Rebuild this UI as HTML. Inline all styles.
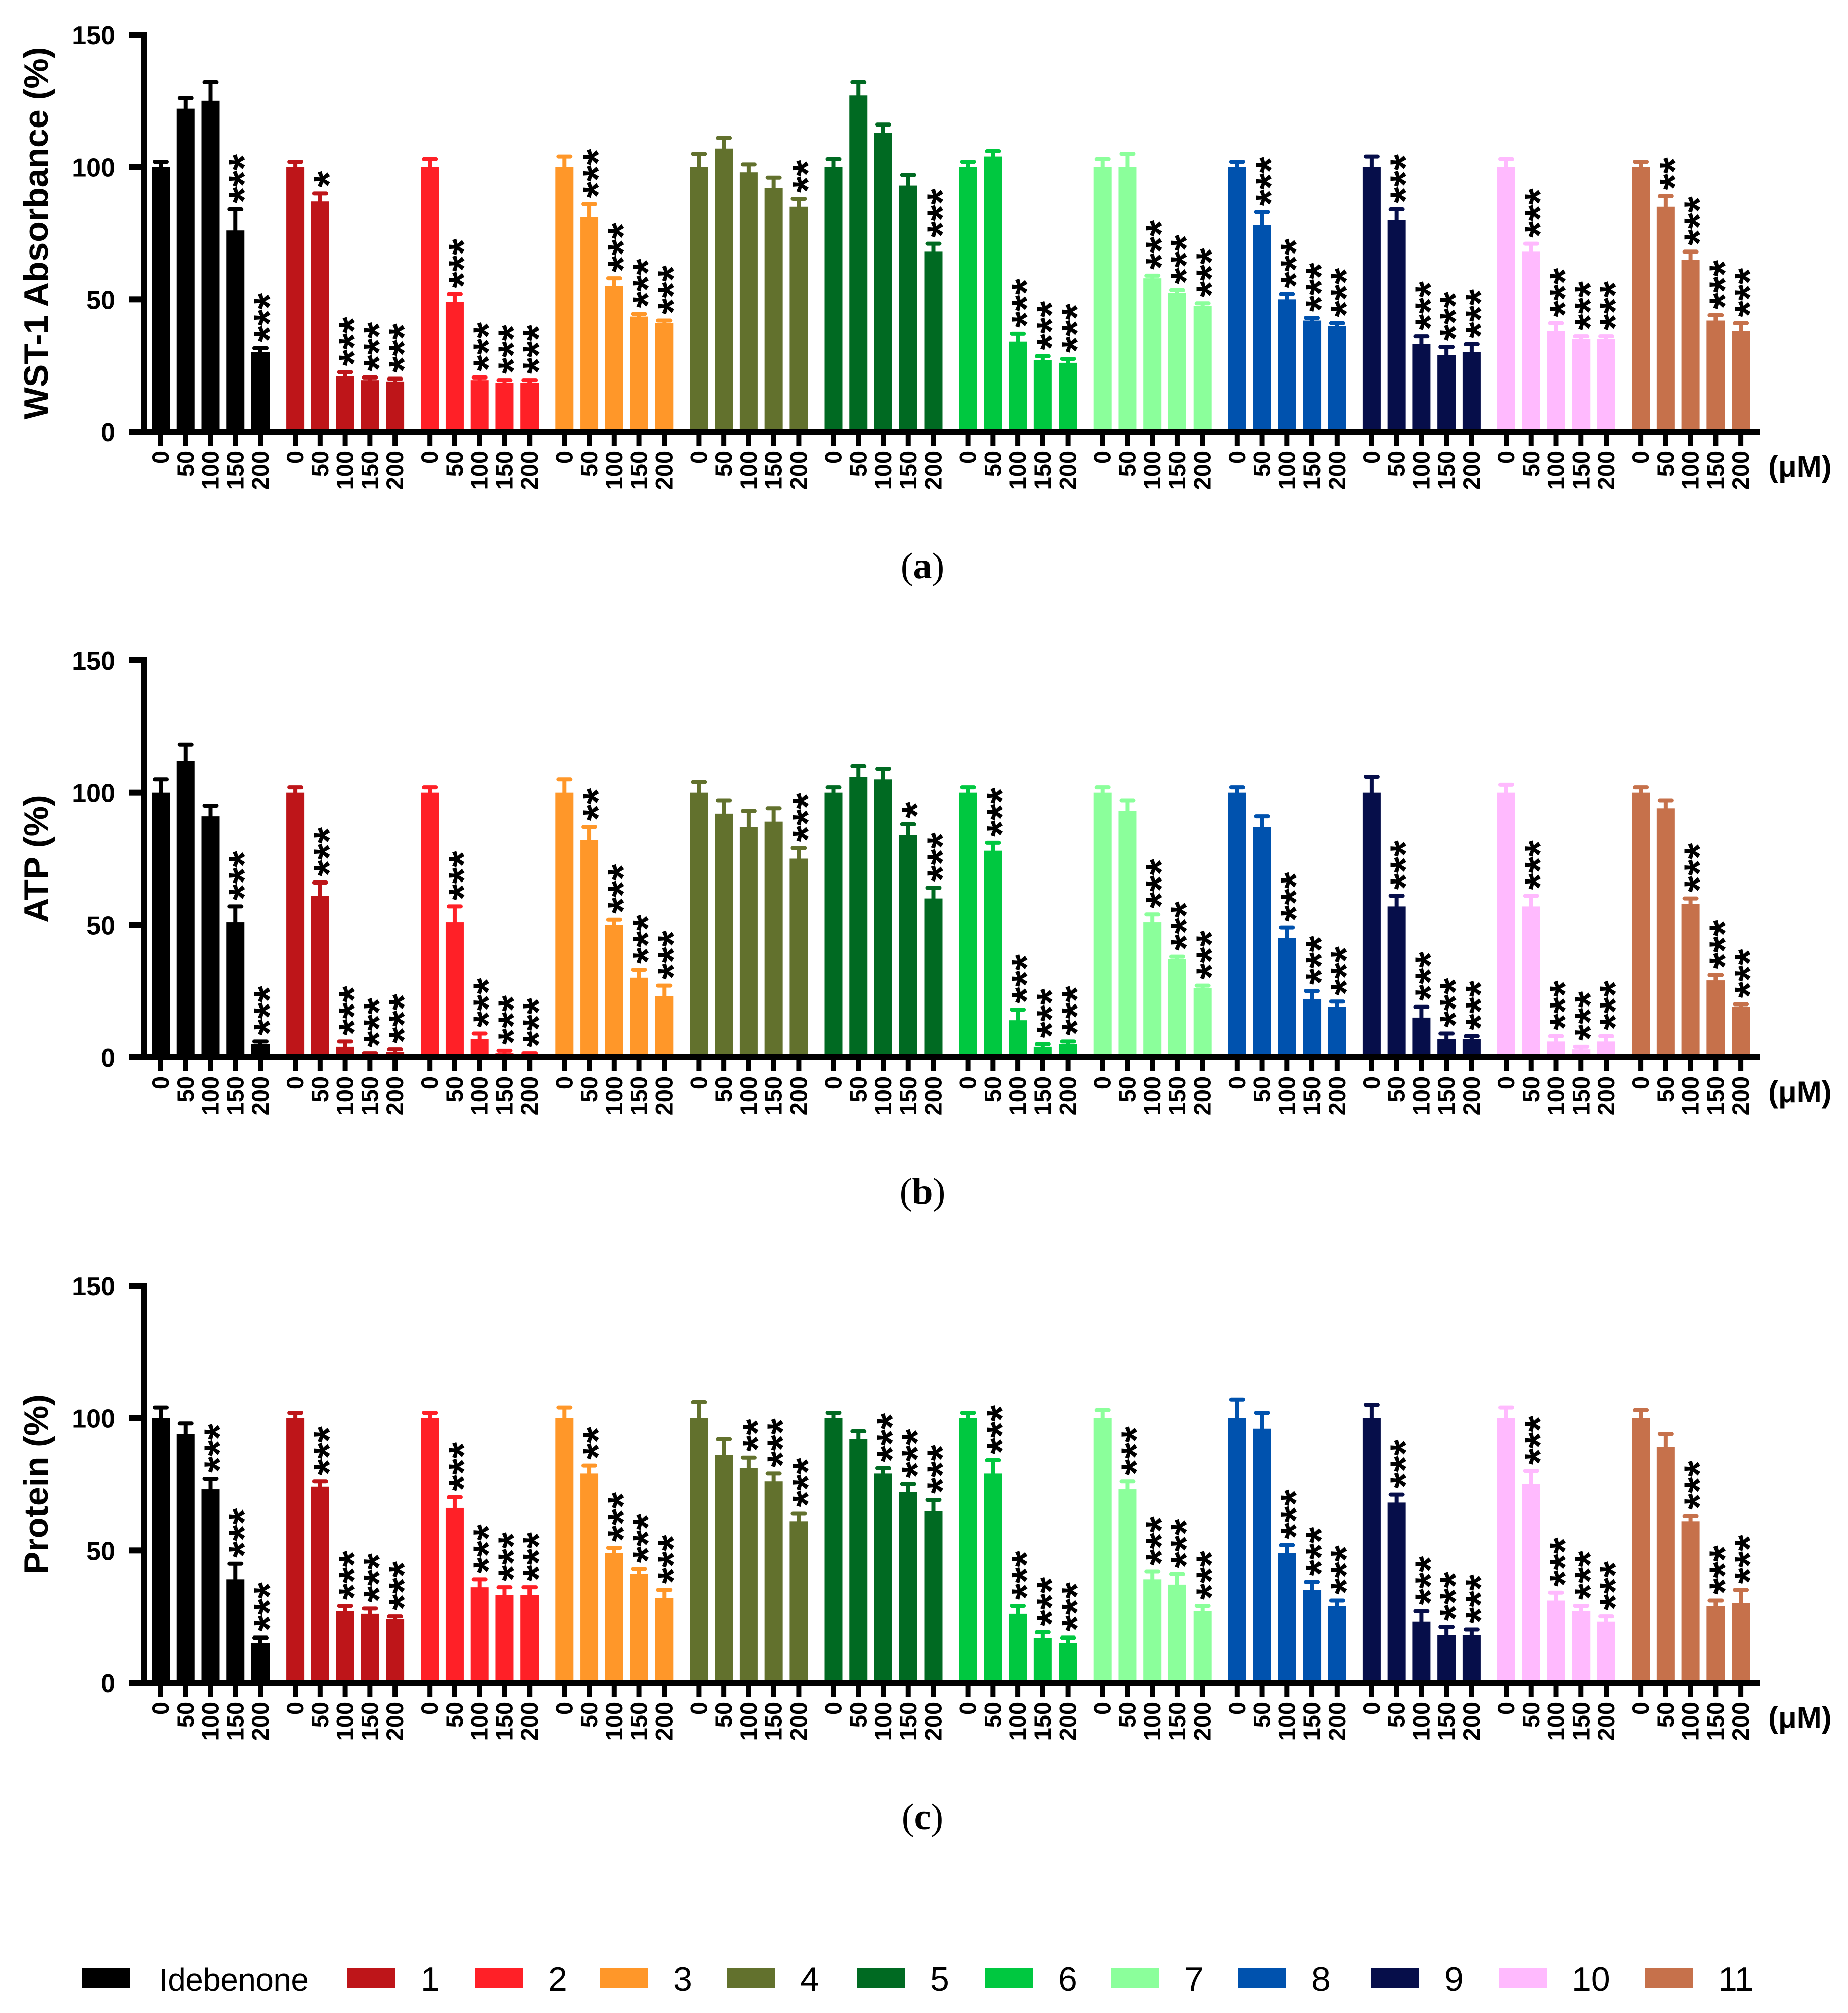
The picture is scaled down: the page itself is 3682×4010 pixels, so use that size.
<!DOCTYPE html>
<html><head><meta charset="utf-8"><style>
html,body{margin:0;padding:0;background:#fff;}
svg{display:block;}
</style></head><body>
<svg id="fig" width="3682" height="4010" viewBox="0 0 3682 4010" xmlns="http://www.w3.org/2000/svg"></svg>
<script>
const groups = ["Idebenone","1","2","3","4","5","6","7","8","9","10","11"];
const doses = ["0","50","100","150","200"];
const colors = ["#000000","#be1519","#ff2027","#ff9729","#62712d","#006a22","#00c840","#8bff9b","#0052ae","#060e4a","#ffbafe","#c6714b"];
const yTicks = [0,50,100,150];

const wstValues = [[100,122,125,76,30],[100,87,21,19.5,19],[100,49,19.5,18.5,18.5],[100,81,55,43.5,41],[100,107,98,92,85],[100,127,113,93,68],[100,104,34,27,26],[100,100,58,52.5,47.5],[100,78,50,42,40],[100,80,33,29,30],[100,68,38,35,35],[100,85,65,42,38]];
const wstErrors = [[2,4,7,8,1.5],[2,3,1.5,1,1],[3,3,1,1,1],[4,5,3,1,1],[5,4,3,4,3],[3,5,3,4,3],[2,2,3,1.5,1.5],[3,5,1,1,1],[2,5,2,1,1],[4,4,3,3,3],[3,3,3,1,1],[2,4,3,2,3]];
const wstStars = [["","","","***","***"],["","*","***","***","***"],["","***","***","***","***"],["","***","***","***","***"],["","","","","**"],["","","","","***"],["","","***","***","***"],["","","***","***","***"],["","***","***","***","***"],["","***","***","***","***"],["","***","***","***","***"],["","**","***","***","***"]];

const atpValues = [[100,112,91,51,5],[100,61,4,1,2],[100,51,7,1.5,1],[100,82,50,30,23],[100,92,87,89,75],[100,106,105,84,60],[100,78,14,4,5],[100,93,51,37,26],[100,87,45,22,19],[100,57,15,7,7],[100,57,6,3,6],[100,94,58,29,19]];
const atpErrors = [[5,6,4,6,1],[2,5,2,0.5,1],[2,6,2,1,0.5],[5,5,2,3,4],[4,5,6,5,4],[2,4,4,4,4],[2,3,4,1,1],[2,4,3,1,1],[2,4,4,3,2],[6,4,4,2,1],[3,4,2,1,2],[2,3,2,2,1]];
const atpStars = [["","","","***","***"],["","***","***","***","***"],["","***","***","***","***"],["","**","***","***","***"],["","","","","***"],["","","","*","***"],["","***","***","***","***"],["","","***","***","***"],["","","***","***","***"],["","***","***","***","***"],["","***","***","***","***"],["","","***","***","***"]];

const protValues = [[100,94,73,39,15],[100,74,27,26,24],[100,66,36,33,33],[100,79,49,41,32],[100,86,81,76,61],[100,92,79,72,65],[100,79,26,17,15],[100,73,39,37,27],[100,96,49,35,29],[100,68,23,18,18],[100,75,31,27,23],[100,89,61,29,30]];
const protErrors = [[4,4,4,6,2],[2,2,2,2,1],[2,4,3,3,3],[4,3,2,2,3],[6,6,4,3,3],[2,3,2,3,4],[2,5,3,2,2],[3,3,3,4,2],[7,6,3,3,2],[5,3,4,3,2],[4,5,3,2,2],[3,5,2,2,5]];
const protStars = [["","","***","***","***"],["","***","***","***","***"],["","***","***","***","***"],["","**","***","***","***"],["","","**","***","***"],["","","***","***","***"],["","***","***","***","***"],["","***","***","***","***"],["","","***","***","***"],["","***","***","***","***"],["","***","***","***","***"],["","","***","***","***"]];

const NS="http://www.w3.org/2000/svg";
const svg=document.getElementById('fig');
function mk(tag,attrs,parent,text){const e=document.createElementNS(NS,tag);for(const k in attrs)e.setAttribute(k,attrs[k]);if(text!==undefined)e.textContent=text;(parent||svg).appendChild(e);return e;}

const F='"Liberation Sans", Arial, sans-serif';
const panels=[
 {id:"wst",title:"WST-1 Absorbance (%)",caption:"a",values:wstValues,errors:wstErrors,stars:wstStars,base:860},
 {id:"atp",title:"ATP (%)",caption:"b",values:atpValues,errors:atpErrors,stars:atpStars,base:2106},
 {id:"protein",title:"Protein (%)",caption:"c",values:protValues,errors:protErrors,stars:protStars,base:3352}
];
const pxPerUnit=(860-69)/150;
const x0=302, barW=36, barPitch=49.75, groupPitch=268.1;
function xBar(g,d){return x0+g*groupPitch+d*barPitch;}

panels.forEach(p=>{
  const g0=mk('g',{},svg);
  
  
  const y=v=>p.base-v*pxPerUnit;
  p.values.forEach((vals,gi)=>{
    vals.forEach((v,di)=>{
      const bx=xBar(gi,di), cx=bx+barW/2;
      const r=mk('rect',{x:bx,y:y(v),width:barW,height:p.base-y(v),fill:colors[gi]},g0);
      
      
      const top=y(v+p.errors[gi][di]);
      const eb=mk('path',{d:`M${cx} ${y(v)} L${cx} ${top} M${cx-12} ${top} L${cx+12} ${top}`,stroke:colors[gi],'stroke-width':8,'stroke-linecap':'round',fill:'none'},g0);
      
      
      const s=p.stars[gi][di];
      if(s){
        const sy=top-12, sx=cx+46;
        const t=mk('text',{x:sx,y:sy,transform:`rotate(-90 ${sx} ${sy})`,'font-family':F,'font-weight':'bold','font-size':84,fill:'#000'},g0,s);
        
        
      }
      mk('rect',{x:cx-5,y:p.base+6,width:10,height:22,fill:'#000'},g0);
      const lx=cx+16, ly=p.base+38;
      const tl=mk('text',{x:lx,y:ly,transform:`rotate(-90 ${lx} ${ly})`,'text-anchor':'end','font-family':F,'font-weight':'bold','font-size':47,fill:'#000'},g0,doses[di]);
      
      
    });
  });
  const ya=mk('rect',{x:280,y:y(150)-6,width:12,height:p.base-y(150)+12,fill:'#000'},g0);
  
  
  const xa=mk('rect',{x:280,y:p.base-6,width:3226,height:12,fill:'#000'},g0);
  
  
  yTicks.forEach(v=>{
    mk('rect',{x:257,y:y(v)-6,width:30,height:12,fill:'#000'},g0);
    const t=mk('text',{x:230,y:y(v)+19,'text-anchor':'end','font-family':F,'font-weight':'bold','font-size':52,fill:'#000'},g0,String(v));
    
    
  });
  const cyT=(p.base+y(150))/2;
  const yt=mk('text',{x:95,y:cyT,transform:`rotate(-90 95 ${cyT})`,'text-anchor':'middle','font-family':F,'font-weight':'bold','font-size':68,fill:'#000'},g0,p.title);
  
  
  const um=mk('text',{x:3523,y:p.base+90,'font-family':F,'font-weight':'bold','font-size':60,fill:'#000'},g0,'(μM)');
  
  
  const cap=mk('text',{x:1838,y:p.base+292,'text-anchor':'middle','font-family':'"Liberation Serif", serif','font-size':74,fill:'#000'},g0);
  
  
  mk('tspan',{},cap,'(');
  mk('tspan',{'font-weight':'bold'},cap,p.caption);
  mk('tspan',{},cap,')');
});

const legSq=[164,692,946,1195,1448,1707,1962,2214,2467,2732,2986,3277];
const lg=mk('g',{},svg);


groups.forEach((gname,i)=>{
  const e=mk('g',{},lg);
  
  
  mk('rect',{x:legSq[i],y:3921,width:96,height:40,fill:colors[i]},e);
  const t=mk('text',{x:legSq[i]+(i===0?153:146),y:3966,'font-family':F,'font-size':i===0?64:68,fill:'#000'},e,gname);
  if(i===0) t.setAttribute('textLength','298');
});
</script>
</body></html>
